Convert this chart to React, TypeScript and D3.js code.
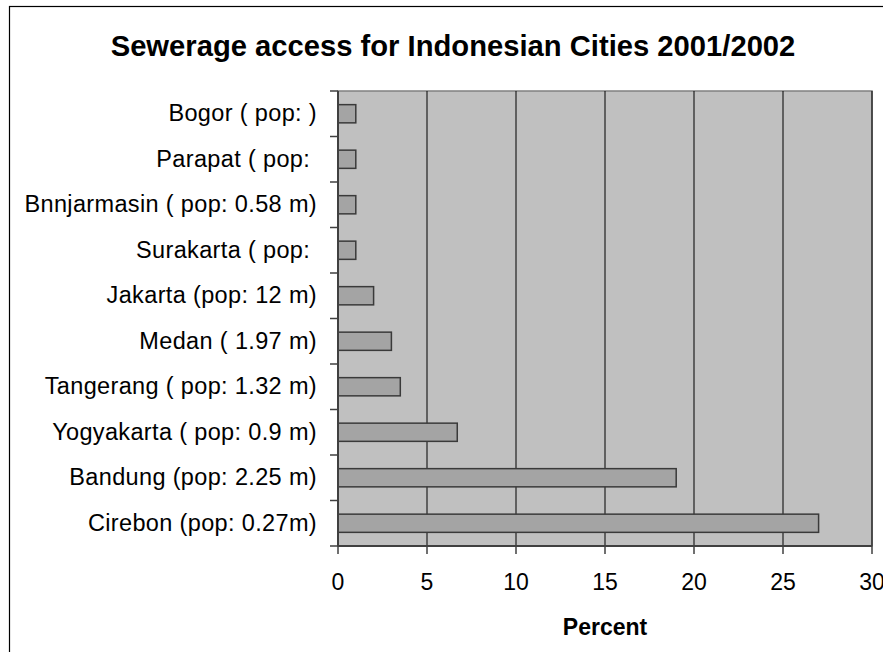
import React from "react";
import * as d3 from "d3";

const cities = [
  "Bogor ( pop: )",
  "Parapat ( pop: ",
  "Bnnjarmasin ( pop: 0.58 m)",
  "Surakarta ( pop: ",
  "Jakarta (pop: 12 m)",
  "Medan ( 1.97 m)",
  "Tangerang ( pop: 1.32 m)",
  "Yogyakarta ( pop: 0.9 m)",
  "Bandung (pop: 2.25 m)",
  "Cirebon (pop: 0.27m)",
];
const percentValues = [1, 1, 1, 1, 2, 3, 3.5, 6.7, 19, 27];
const xTicks = [0, 5, 10, 15, 20, 25, 30];
const titleText = "Sewerage access for Indonesian Cities 2001/2002";
const xAxisTitle = "Percent";

export default function App() {
  const W = 883, H = 652;
  const left = 338, right = 872, top = 91, bottom = 546;
  const x = d3.scaleLinear().domain([0, 30]).range([left, right]);
  const y = d3.scaleBand<string>().domain(cities).range([top, bottom]).paddingInner(0.6).paddingOuter(0.3);
  const yb = d3.scaleBand<string>().domain(cities).range([top, bottom]);
  const font = "'Liberation Sans', Arial, sans-serif";
  return (
    <div style={{ position: "fixed", left: 0, top: 0 }}>
      <svg width={W} height={H} style={{ display: "block", fontFamily: font }}>
        <rect x={0} y={0} width={W} height={H} fill="#fff" />
        <rect x={9.5} y={6.5} width={W + 20} height={H + 20} fill="none" stroke="#000" strokeWidth={1.2} />
        <text x={453} y={56} textAnchor="middle" fontSize={29.2} fontWeight="bold" fill="#000">{titleText}</text>
        <rect x={left} y={top} width={right - left} height={bottom - top} fill="#c0c0c0" stroke="#808080" strokeWidth={1.5} />
        {xTicks.slice(1).map((t) => (
          <line key={"g" + t} x1={x(t)} x2={x(t)} y1={top} y2={bottom} stroke="#000" strokeWidth={1} />
        ))}
        {cities.map((c, i) => (
          <rect key={"b" + c} x={x(0)} y={y(c)!} width={x(percentValues[i]) - x(0)} height={y.bandwidth()}
            fill="#a4a4a4" stroke="#3a3a3a" strokeWidth={1.5} />
        ))}
        <line x1={left} x2={left} y1={top} y2={bottom} stroke="#404040" strokeWidth={2} />
        <line x1={left} x2={right} y1={bottom} y2={bottom} stroke="#404040" strokeWidth={2} />
        {cities.map((c, i) => (
          <line key={"yt" + i} x1={left - 8} x2={left} y1={yb(c)!} y2={yb(c)!} stroke="#404040" strokeWidth={1.5} />
        ))}
        <line x1={left - 8} x2={left} y1={bottom} y2={bottom} stroke="#404040" strokeWidth={1.5} />
        {xTicks.map((t) => (
          <line key={"xt" + t} x1={x(t)} x2={x(t)} y1={bottom} y2={bottom + 8} stroke="#404040" strokeWidth={1.5} />
        ))}
        {cities.map((c) => (
          <text key={"l" + c} x={317} y={yb(c)! + yb.bandwidth() / 2 + 7.5} textAnchor="end" fontSize={23.5}
            letterSpacing={0.35} fill="#000" style={{ whiteSpace: "pre" }}>{c}</text>
        ))}
        {xTicks.map((t) => (
          <text key={"xl" + t} x={x(t)} y={590} textAnchor="middle" fontSize={23} fill="#000">{t}</text>
        ))}
        <text x={(left + right) / 2} y={635} textAnchor="middle" fontSize={23} fontWeight="bold" fill="#000">{xAxisTitle}</text>
      </svg>
    </div>
  );
}
